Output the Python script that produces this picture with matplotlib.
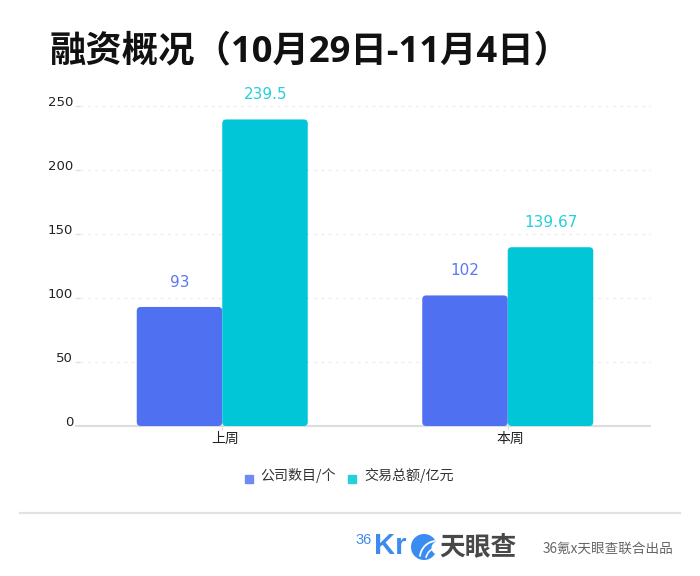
import matplotlib
matplotlib.use("Agg")
import matplotlib.pyplot as plt
from matplotlib.patches import FancyBboxPatch, Wedge, Circle
from matplotlib.lines import Line2D
from matplotlib.legend_handler import HandlerLine2D
from matplotlib.transforms import ScaledTranslation
import numpy as np

CJK = ['Noto Sans CJK SC', 'DejaVu Sans']
plt.rcParams['font.family'] = CJK

title = "融资概况（10月29日-11月4日）"
categories = ["上周", "本周"]
series_names = ["公司数目/个", "交易总额/亿元"]
companies = [93, 102]
amounts = [239.5, 139.67]
amount_labels = ["239.5", "139.67"]
yticks = [0, 50, 100, 150, 200, 250]

BLUE = "#5070F2"
TEAL = "#00C6D8"
W, H = 700, 576
fig = plt.figure(figsize=(7, 5.76), dpi=100, facecolor="white")
L, R, T, B = 79.5, 650.5, 106, 426
ax = fig.add_axes([L / W, 1 - B / H, (R - L) / W, (B - T) / H])
ax.set_xlim(-0.5, 1.5)
ax.set_ylim(0, 250)
ax.set_zorder(2)

x = np.arange(len(categories))
bw = 85.5 / 285.5
aspect = 285.5 / (320 / 250)
for xs, vals, c in [(x - bw, companies, BLUE), (x, amounts, TEAL)]:
    bars = ax.bar(xs, vals, bw, align="edge", color="none", edgecolor="none")
    for b in bars:
        ax.add_patch(FancyBboxPatch((b.get_x(), 0), b.get_width(), b.get_height(),
                                    boxstyle=f"round,pad=0,rounding_size={4 / 285.5}",
                                    mutation_aspect=aspect, fc=c, ec="none", zorder=3))

for xi, v in zip(x, companies):
    ax.annotate(str(v), (xi - bw / 2, v), xytext=(0, 12.5), textcoords="offset points",
                ha="center", va="bottom", color="#5B78F3", fontsize=11,
                family="DejaVu Sans", annotation_clip=False)
for xi, v, s in zip(x, amounts, amount_labels):
    ax.annotate(s, (xi + bw / 2, v), xytext=(0.6, 12.5), textcoords="offset points",
                ha="center", va="bottom", color="#26CFDC", fontsize=11,
                family="DejaVu Sans", annotation_clip=False)

ax.set_yticks(yticks)
ax.set_xticks(x)
ax.set_xticklabels(categories, fontsize=10, color="#222222")
ax.set_yticklabels([str(t) for t in yticks], fontsize=9.5, color="#222222",
                   family="DejaVu Sans", va="bottom")
ax.tick_params(axis="y", length=3.6, width=1, color="#e0e0e0", pad=1)
ax.tick_params(axis="x", length=3, width=0.8, color="#dddddd", pad=1.5, direction="out")
ax.yaxis.get_major_ticks()[0].tick1line.set_markeredgewidth(1.5)
ax.yaxis.get_major_ticks()[0].tick1line.set_markeredgecolor("#dddddd")
for lab in ax.get_yticklabels():
    lab.set_transform(lab.get_transform() + ScaledTranslation(0, -2.5 / 72, fig.dpi_scale_trans))
for lab in ax.get_xticklabels():
    lab.set_transform(lab.get_transform() + ScaledTranslation(2.2 / 72, 0, fig.dpi_scale_trans))
ax.grid(axis="y", color="#ececec", lw=0.75, ls=(0, (3, 4)), zorder=0)
ax.set_axisbelow(True)
for s in ["top", "left", "right"]:
    ax.spines[s].set_visible(False)
ax.spines["bottom"].set_color("#dddddd")
ax.spines["bottom"].set_linewidth(1.5)
ax.spines["bottom"].set_capstyle("butt")

fig.text(50 / W, 1 - 52.5 / H, title, fontsize=26.2, fontweight="bold", color="#111111",
         ha="left", va="center", family=['Open Sans', 'Noto Sans CJK SC'])


class LoweredMarker(HandlerLine2D):
    def create_artists(self, legend, orig_handle, xdescent, ydescent, width, height, fontsize, trans):
        artists = super().create_artists(legend, orig_handle, xdescent, ydescent,
                                         width, height, fontsize, trans)
        for a in artists:
            a.set_ydata(np.asarray(a.get_ydata()) - 3.3)
        return artists


handles = [Line2D([], [], ls="", marker="s", ms=5.8, color="#6F8AF5"),
           Line2D([], [], ls="", marker="s", ms=5.8, color="#26CFDC")]
hm = {h: LoweredMarker(numpoints=1) for h in handles}
fig.legend(handles, series_names, handler_map=hm, loc="center", bbox_to_anchor=(347.5 / W, 1 - 475 / H),
           ncol=2, frameon=False, fontsize=10.1, labelcolor="#333333", handletextpad=0.35,
           columnspacing=0.64, handlelength=1.0, borderpad=0)

# footer overlay in pixel coordinates
ov = fig.add_axes([0, 0, 1, 1], facecolor="none", zorder=5)
ov.set_xlim(0, W)
ov.set_ylim(H, 0)
ov.axis("off")
ov.add_line(Line2D([20, 680], [513, 513], color="#e2e2e2", lw=1.6))
ov.text(355, 539.5, "36", fontsize=10.5, color="#3E8BF0", va="center", ha="left",
        family=['Liberation Sans', 'DejaVu Sans'])
ov.text(374, 546, "Kr", fontsize=21, color="#3E8BF0", va="center", ha="left",
        fontweight="bold", family=['Liberation Sans', 'DejaVu Sans'])
ov.add_patch(Circle((424, 547), 13, fc="#3A8CF0", ec="none"))
ov.add_patch(Wedge((437, 558), 18, 185, 265, width=1.8, fc="white", ec="none"))
ov.add_patch(Wedge((438, 560), 13, 190, 265, width=1.6, fc="white", ec="none"))
ov.add_patch(Wedge((438, 548), 6.5, 0, 360, fc="white", ec="none"))
ov.text(439.5, 546.5, "天眼查", fontsize=18.5, color="#484848", va="center", ha="left", fontweight="bold")
ov.text(543, 548.5, "36氪x天眼查联合出品", fontsize=9.8, color="#666666", va="center", ha="left")

fig.savefig("out.png", dpi=100, facecolor="white")
